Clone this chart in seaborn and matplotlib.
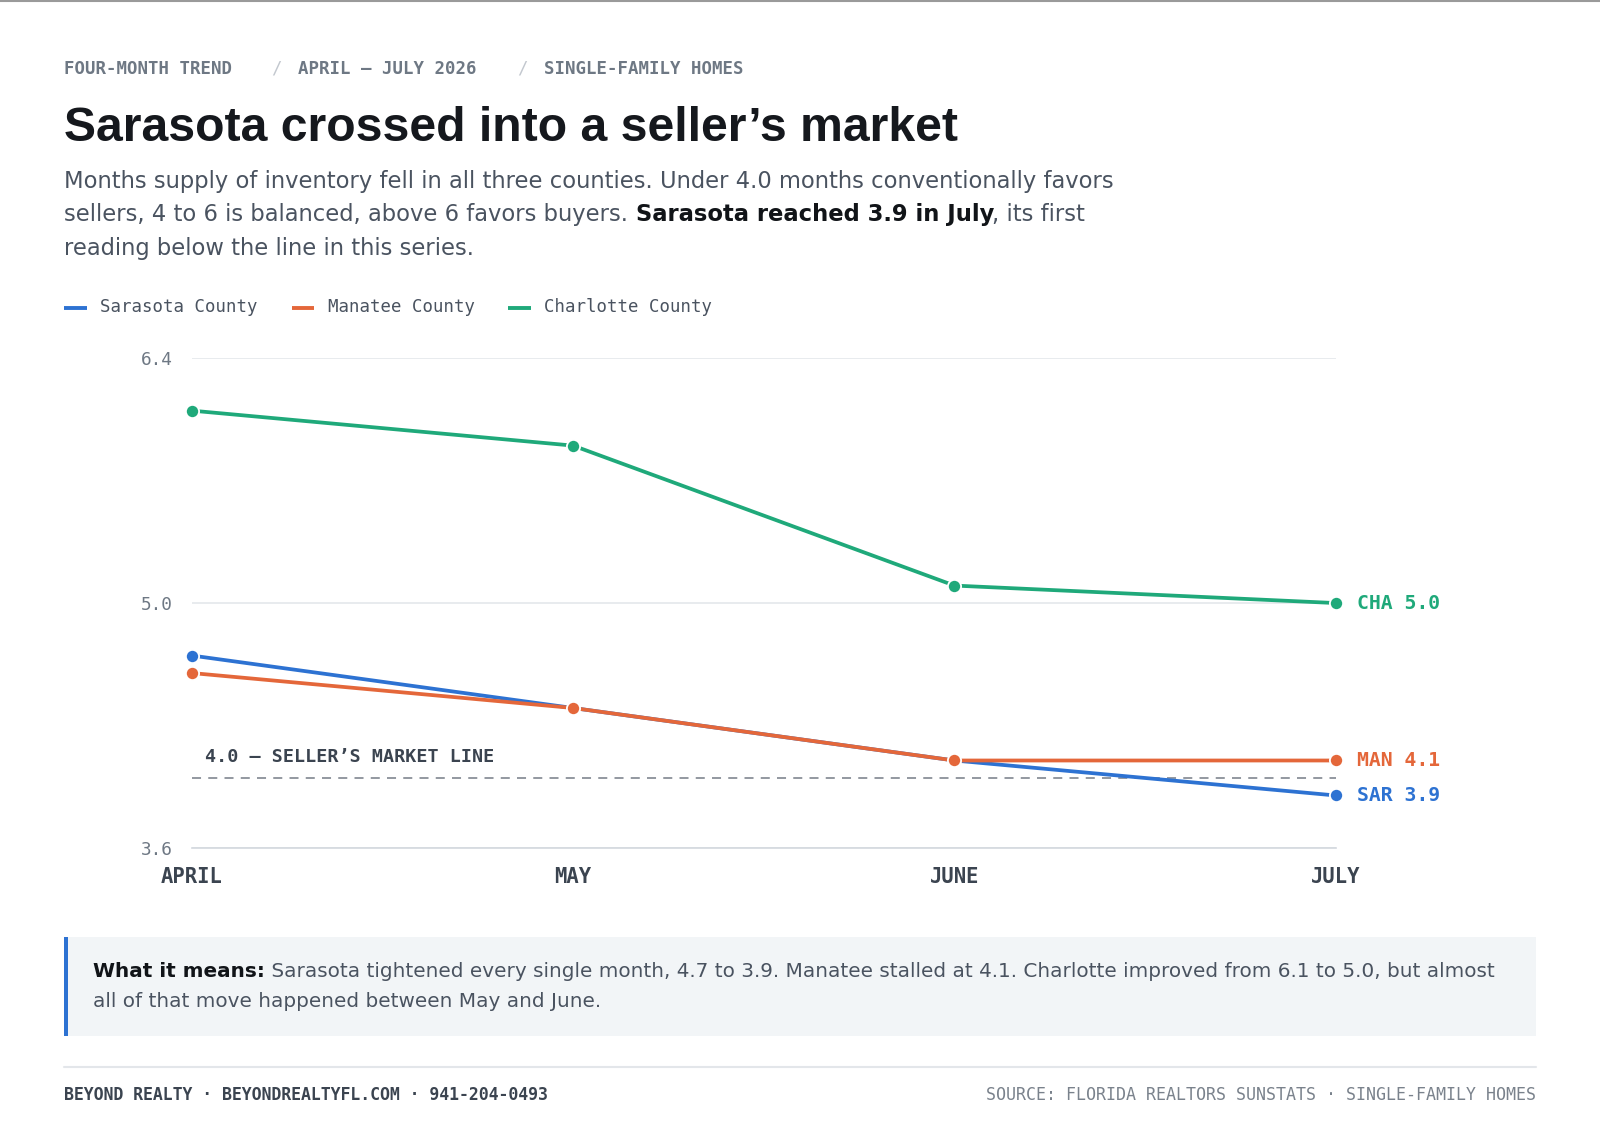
import matplotlib
matplotlib.use("Agg")
import matplotlib.pyplot as plt
import seaborn as sns
import pandas as pd
from matplotlib.patches import Rectangle
from matplotlib.lines import Line2D

# ---------------- data ----------------
months = ["APRIL", "MAY", "JUNE", "JULY"]
counties = ["Sarasota County", "Manatee County", "Charlotte County"]
short_names = ["SAR", "MAN", "CHA"]
sarasota = [4.7, 4.4, 4.1, 3.9]
manatee = [4.6, 4.4, 4.1, 4.1]
charlotte = [6.1, 5.9, 5.1, 5.0]
y_ticks = [3.6, 5.0, 6.4]
threshold = 4.0
eyebrow_parts = ["FOUR-MONTH TREND", "APRIL — JULY 2026", "SINGLE-FAMILY HOMES"]

palette = {"Sarasota County": "#2d72d2",
           "Manatee County": "#e4673a",
           "Charlotte County": "#1fa97a"}

series = {"Sarasota County": sarasota, "Manatee County": manatee, "Charlotte County": charlotte}
rows = []
for c in counties:
    for i, m in enumerate(months):
        rows.append({"county": c, "x": i, "month": m, "value": series[c][i]})
df = pd.DataFrame(rows)

# ---------------- style ----------------
sns.set_theme(style="white")
plt.rcParams['font.family'] = ['DejaVu Sans']
MONO = 'DejaVu Sans Mono'
DARK = '#3b4450'
MUTED = '#6e7884'
TEXT = '#4a5360'

W, H = 1600, 1145
S = 1600 / 1568.0  # layout grid -> pixel scale
fig = plt.figure(figsize=(16, 11.45), dpi=100)
fig.patch.set_facecolor('white')


def fx(px):
    return px * S / W


def fy(py):
    return 1 - py * S / H


def fw(px):
    return px * S / W


def fh(px):
    return px * S / H


renderer = fig.canvas.get_renderer()


def text_width(s, size, weight, family):
    p = fig.text(0, 0, s + '.', fontsize=size, fontweight=weight, family=family)
    d = fig.text(0, 0, '.', fontsize=size, fontweight=weight, family=family)
    w = p.get_window_extent(renderer).width - d.get_window_extent(renderer).width
    p.remove()
    d.remove()
    return w


def run_text(x_px, y_px, runs, size, family='DejaVu Sans'):
    x = x_px
    for s, weight, color in runs:
        fig.text(fx(x), fy(y_px), s, fontsize=size, fontweight=weight, color=color,
                 family=family, va='baseline', ha='left')
        x += text_width(s, size, weight, family) / S


# top border
fig.add_artist(Line2D([0, 1], [1 - 0.8 / H, 1 - 0.8 / H], color='#9a9a9a', lw=1.5))

# eyebrow (segments with lighter separators)
eb_starts = [63, 292, 533]
eb_slashes = [271, 512]
for part, sx in zip(eyebrow_parts, eb_starts):
    fig.text(fx(sx), fy(72.5), part, family=MONO, fontweight='bold', fontsize=12.5,
             color=MUTED, va='baseline', ha='left')
for sx in eb_slashes:
    fig.text(fx(sx), fy(72.5), "/", family=MONO, fontsize=12.5, color='#c3c8cf',
             va='baseline', ha='center')

# title
fig.text(fx(63), fy(138), "Sarasota crossed into a seller’s market",
         family='Liberation Sans', fontweight='bold', fontsize=34.7, color='#15181d', va='baseline')

# subtitle
SUB = 16.3
run_text(63, 184, [("Months supply of inventory fell in all three counties. Under 4.0 months conventionally favors", 'normal', TEXT)], SUB)
run_text(63, 217, [("sellers, 4 to 6 is balanced, above 6 favors buyers. ", 'normal', TEXT),
                   ("Sarasota reached 3.9 in July", 'bold', '#111418'),
                   (", its first", 'normal', TEXT)], SUB)
run_text(63, 250, [("reading below the line in this series.", 'normal', TEXT)], SUB)

# legend (manual)
leg_x = [63, 286, 498]
for c, lx in zip(counties, leg_x):
    fig.add_artist(Line2D([fx(lx), fx(lx + 22)], [fy(301.5), fy(301.5)], color=palette[c], lw=2.8,
                          solid_capstyle='butt'))
    fig.text(fx(lx + 35), fy(306), c, family=MONO, fontsize=12.5, color=TEXT, va='baseline')

# ---------------- chart ----------------
ax = fig.add_axes([fx(188), fy(831), fw(1309 - 188), fh(831 - 351)])
ax.set_facecolor('white')

sns.lineplot(data=df, x="x", y="value", hue="county", hue_order=counties, palette=palette,
             marker='o', markersize=9.5, markeredgecolor='white', markeredgewidth=1.3,
             linewidth=2.7, legend=False, ax=ax, clip_on=False, zorder=5)

ax.set_xlim(0, len(months) - 1)
ax.set_ylim(y_ticks[0], y_ticks[-1])
ax.set_yticks(y_ticks)
ax.set_yticklabels([f"{v:.1f}" for v in y_ticks])
ax.set_xticks(range(len(months)))
ax.set_xticklabels(months)
ax.set_xlabel("")
ax.set_ylabel("")
ax.grid(axis='y', color='#e2e5e9', lw=1.1)
ax.grid(axis='x', visible=False)
for s in ['top', 'right', 'left']:
    ax.spines[s].set_visible(False)
ax.spines['bottom'].set_color('#d3d8de')
ax.spines['bottom'].set_linewidth(1.2)
ax.tick_params(axis='y', length=0, pad=14, labelsize=12.8, labelcolor=MUTED)
ax.tick_params(axis='x', length=5, width=1.1, color='#d3d8de', pad=9, labelsize=14.8, labelcolor=DARK)
for lbl in ax.get_yticklabels():
    lbl.set_family(MONO)
for lbl in ax.get_xticklabels():
    lbl.set_family(MONO)
    lbl.set_fontweight('bold')

# threshold line
ax.axhline(threshold, color='#8a9098', lw=1.3, ls=(0, (5, 4)), zorder=2)
ax.text(0.035, threshold + 0.12, f"{threshold:.1f} — SELLER’S MARKET LINE", family=MONO,
        fontweight='bold', fontsize=13.2, color=DARK, va='center', ha='left')

# end labels
for c, sn in zip(counties, short_names):
    v = series[c][-1]
    ax.annotate(f"{sn} {v:.1f}", xy=(len(months) - 1, v), xytext=(15, 0), textcoords='offset points',
                family=MONO, fontweight='bold', fontsize=14.2, color=palette[c], va='center', ha='left',
                annotation_clip=False)

# ---------------- callout ----------------
fig.add_artist(Rectangle((fx(63), fy(1015)), fw(1505 - 63), fh(1015 - 918),
                         transform=fig.transFigure, facecolor='#f2f5f7', edgecolor='none', zorder=0))
fig.add_artist(Rectangle((fx(63), fy(1015)), fw(3.5), fh(1015 - 918),
                         transform=fig.transFigure, facecolor='#2d72d2', edgecolor='none', zorder=1))
CAL = 14.45
run_text(91, 957, [("What it means:", 'bold', '#111418'),
                   (" Sarasota tightened every single month, 4.7 to 3.9. Manatee stalled at 4.1. Charlotte improved from 6.1 to 5.0, but almost", 'normal', TEXT)], CAL)
run_text(91, 987, [("all of that move happened between May and June.", 'normal', TEXT)], CAL)

# footer
fig.add_artist(Line2D([fx(63), fx(1505)], [fy(1046), fy(1046)], color='#e3e6ea', lw=1.5))
fig.text(fx(63), fy(1078), "BEYOND REALTY · BEYONDREALTYFL.COM · 941-204-0493", family=MONO,
         fontweight='bold', fontsize=11.9, color=DARK, va='baseline', ha='left')
fig.text(fx(1505), fy(1078), "SOURCE: FLORIDA REALTORS SUNSTATS · SINGLE-FAMILY HOMES", family=MONO,
         fontsize=12, color='#7a828c', va='baseline', ha='right')

fig.savefig("out.png", dpi=100, facecolor='white')
